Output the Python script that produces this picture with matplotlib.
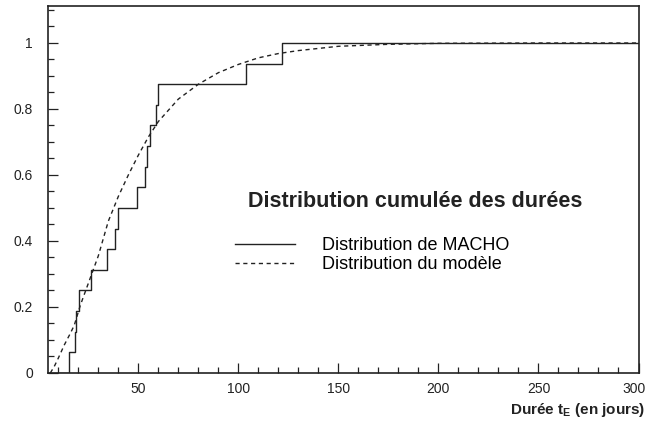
import matplotlib
matplotlib.use("Agg")
import matplotlib.pyplot as plt
from matplotlib.ticker import MultipleLocator
from matplotlib.transforms import ScaledTranslation

plt.rcParams['font.family'] = ['Liberation Sans', 'DejaVu Sans']
plt.rcParams['mathtext.fontset'] = 'custom'
plt.rcParams['mathtext.bf'] = 'Liberation Sans:bold'
plt.rcParams['mathtext.rm'] = 'Liberation Sans'

# MACHO events: durations (days) at which the cumulative distribution jumps
macho_durations = [15.3, 18.3, 19.0, 20.3, 26.2, 34.3, 38.2, 40.0,
                   49.3, 53.3, 54.1, 55.6, 58.6, 59.8, 104.0, 122.0]

# model cumulative distribution
model_x = [6, 8, 10, 13, 16, 18, 21, 24, 27, 30, 35, 40, 45, 50, 55, 60,
           70, 80, 90, 100, 110, 120, 130, 150, 175, 200, 250, 300]
model_y = [0.0, 0.02, 0.045, 0.085, 0.12, 0.145, 0.205, 0.255, 0.305, 0.355,
           0.46, 0.535, 0.60, 0.66, 0.715, 0.762, 0.83, 0.875, 0.91, 0.935,
           0.955, 0.968, 0.977, 0.99, 0.996, 0.999, 1.0, 1.0]

x_ticks = [50, 100, 150, 200, 250, 300]
y_ticks = [0, 0.2, 0.4, 0.6, 0.8, 1]
y_tick_labels = ['0', '0.2', '0.4', '0.6', '0.8', '1']

x_min, x_max = 5, 300
y_min, y_max = 0, 1.113

n = len(macho_durations)
step_x = [x_min] + macho_durations + [x_max]
step_y = [0.0] + [(i + 1) / n for i in range(n)] + [1.0]

W, H = 647, 421
fig = plt.figure(figsize=(W / 100, H / 100), dpi=100)
ax = fig.add_axes([48.3 / W, 1 - 373 / H, (638.5 - 48.3) / W, (373 - 5.7) / H])

col = '#222222'
ax.step(step_x, step_y, where='post', color=col, lw=1.0,
        label='Distribution de MACHO')
ax.plot(model_x, model_y, color=col, lw=1.0, linestyle=(0, (3, 2.6)),
        label='Distribution du modèle')

ax.set_xlim(x_min, x_max)
ax.set_ylim(y_min, y_max)
ax.xaxis.set_minor_locator(MultipleLocator(10))
ax.yaxis.set_minor_locator(MultipleLocator(0.05))
ax.set_xticks(x_ticks)
ax.set_xticklabels([str(v) for v in x_ticks])
ax.set_yticks(y_ticks)
ax.set_yticklabels(y_tick_labels)
ax.tick_params(which='major', direction='in', length=7.5, width=0.9,
               labelsize=10, colors=col)
ax.tick_params(which='minor', direction='in', length=4, width=0.9, colors=col)
ax.tick_params(axis='x', which='major', pad=6.5)
ax.tick_params(axis='y', which='major', pad=11)
for s in ax.spines.values():
    s.set_linewidth(1.2)
    s.set_color(col)

# last x label sits right at the figure edge, keep it inside
last = ax.get_xticklabels()[-1]
last.set_ha('right')
last.set_transform(last.get_transform()
                   + ScaledTranslation(7 / 100, 0, fig.dpi_scale_trans))

ax.legend(loc='center left', bbox_to_anchor=(235 / W, 1 - 255 / H),
          bbox_transform=fig.transFigure, frameon=False, fontsize=13,
          handlelength=3.33, handletextpad=1.48, labelspacing=0.1,
          borderpad=0, borderaxespad=0)
fig.text(247.7 / W, 1 - 206.7 / H, 'Distribution cumulée des durées',
         ha='left', va='baseline', fontsize=15.5, fontweight='bold', color=col)

fig.text(645 / W, 1 - 410 / H, r'Durée t$_\mathbf{E}$ (en jours)',
         ha='right', va='center', fontsize=11, fontweight='bold', color=col)

fig.savefig('out.png', dpi=100)
